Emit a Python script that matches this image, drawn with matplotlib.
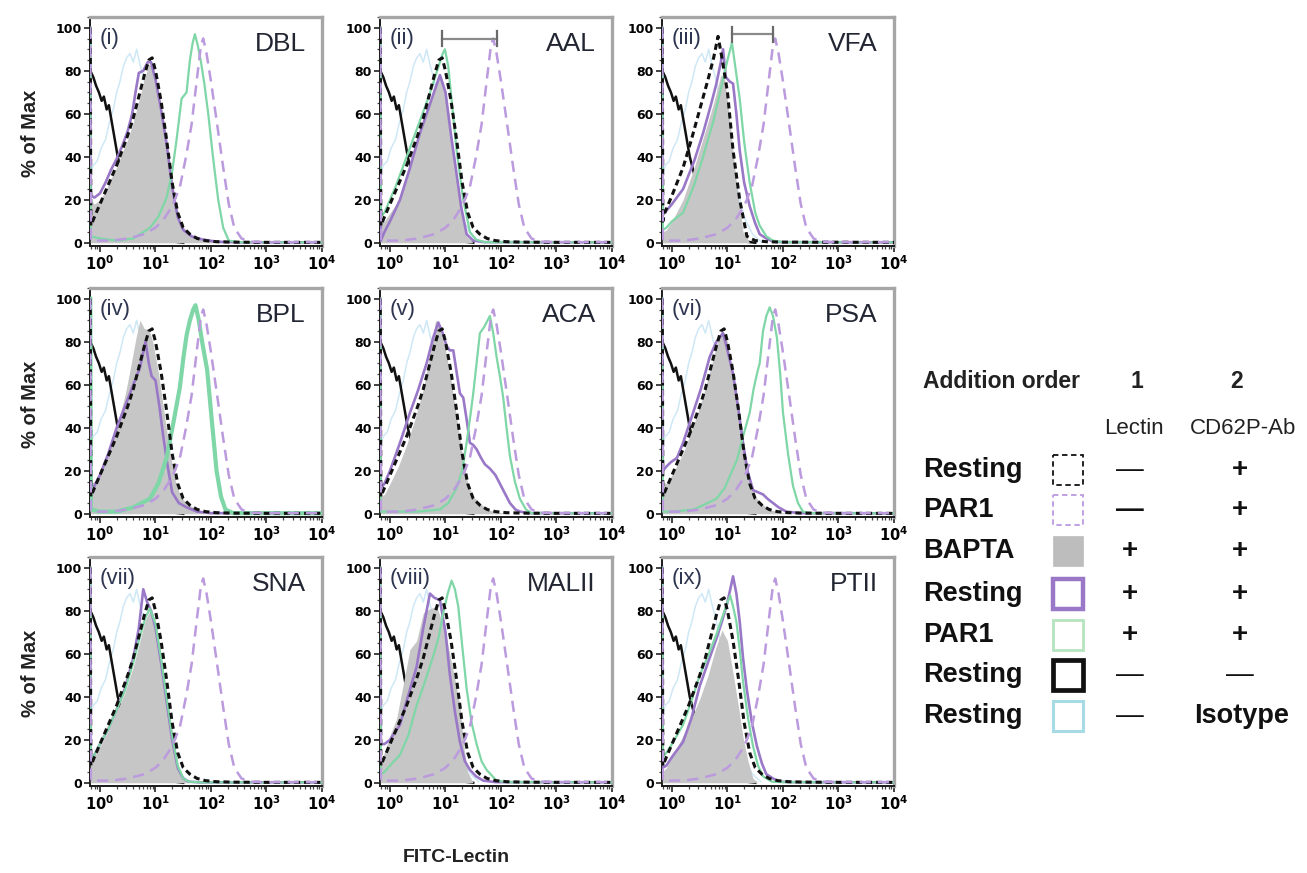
import numpy as np
import matplotlib
matplotlib.use("Agg")
import matplotlib.pyplot as plt
from matplotlib.patches import Rectangle
from matplotlib.ticker import LogLocator, MultipleLocator, NullFormatter, FixedLocator

plt.rcParams["font.family"] = ["Liberation Sans", "DejaVu Sans"]
plt.rcParams["mathtext.fontset"] = "dejavusans"

# ---------------------------------------------------------------- data
# x values are log10(FITC intensity); y values are % of max.
LECTINS = ["DBL", "AAL", "VFA", "BPL", "ACA", "PSA", "SNA", "MALII", "PTII"]
TAGS = ["(i)", "(ii)", "(iii)", "(iv)", "(v)", "(vi)", "(vii)", "(viii)", "(ix)"]

# controls shared by every panel
ISO_X = [-0.175, -0.12, -0.05, 0.02, 0.1, 0.17, 0.24, 0.3, 0.36, 0.42, 0.48, 0.54, 0.6,
         0.66, 0.72, 0.8, 0.9, 1.0, 1.15, 1.3, 1.45, 1.6]
ISO_Y = [32, 36, 38, 44, 48, 56, 62, 70, 75, 82, 86, 88, 84, 90, 83, 75, 62, 48, 28, 12, 4, 0.5]

NOAB_X = [-0.175, -0.12, -0.07, -0.02, 0.03, 0.07, 0.12, 0.16, 0.2, 0.24, 0.28, 0.32, 0.4,
          0.5, 0.65, 0.8, 1.0, 1.2, 1.5]
NOAB_Y = [80, 77, 73, 70, 66, 68, 62, 64, 58, 52, 46, 40, 32, 24, 15, 9, 4, 1, 0]

REST_AB_X = [-0.175, -0.165, -0.1, 0.0, 0.1, 0.2, 0.3, 0.4, 0.5, 0.6, 0.7, 0.8, 0.88, 0.94,
             1.0, 1.1, 1.2, 1.3, 1.4, 1.5, 1.62, 1.75, 1.9, 2.1, 2.4, 3.0, 4.0]
REST_AB_Y = [100, 8, 12, 18, 24, 30, 36, 43, 50, 58, 68, 78, 85, 86, 80, 66, 48, 28, 14, 7,
             4, 2, 1, 0.5, 0.3, 0.2, 0.2]

REST_AB_VFA_X = [-0.175, -0.165, -0.13, 0.0, 0.2, 0.35, 0.5, 0.65, 0.75, 0.83, 0.9, 1.0,
                 1.1, 1.22, 1.35, 1.5, 1.7, 2.0, 4.0]
REST_AB_VFA_Y = [100, 10, 14, 22, 35, 48, 62, 76, 86, 96, 86, 70, 43, 20, 3, 1, 0.5, 0.3, 0.2]

PAR1_AB_X = [-0.175, -0.165, 0.2, 0.5, 0.8, 1.0, 1.15, 1.3, 1.44, 1.55, 1.65, 1.75, 1.82,
             1.86, 1.92, 2.0, 2.1, 2.22, 2.32, 2.42, 2.55, 2.7, 3.0, 4.0]
PAR1_AB_Y = [100, 1, 1, 2, 4, 7, 11, 17, 26, 40, 55, 77, 92, 95, 88, 75, 57, 35, 18, 7, 2,
             0.5, 0.3, 0.3]

# BAPTA (filled grey)
BAPTA_X = {
    "DBL": [-0.175, -0.1, 0.0, 0.1, 0.2, 0.3, 0.4, 0.5, 0.6, 0.7, 0.8, 0.88, 0.95, 1.05, 1.15,
            1.25, 1.35, 1.45, 1.6, 1.8, 2.0, 2.3],
    "AAL": [-0.175, -0.1, 0.0, 0.18, 0.35, 0.54, 0.7, 0.9, 1.05, 1.2, 1.3, 1.38, 1.5],
    "VFA": [-0.175, -0.1, 0.0, 0.2, 0.4, 0.6, 0.75, 0.88, 0.95, 1.05, 1.15, 1.28, 1.4],
    "BPL": [-0.175, -0.1, 0.0, 0.15, 0.3, 0.45, 0.55, 0.65, 0.72, 0.8, 0.88, 0.95, 1.05, 1.15,
            1.25, 1.35, 1.45, 1.6, 1.8, 2.1],
    "ACA": [-0.175, -0.1, 0.0, 0.15, 0.3, 0.45, 0.6, 0.72, 0.82, 0.9, 1.0, 1.1, 1.2, 1.3, 1.4,
            1.5, 1.62, 1.75, 1.9, 2.1],
    "PSA": [-0.175, -0.1, 0.0, 0.2, 0.4, 0.55, 0.7, 0.82, 0.9, 1.0, 1.1, 1.2, 1.3, 1.4, 1.5,
            1.6, 1.75, 1.9, 2.1],
    "SNA": [-0.175, -0.1, 0.0, 0.15, 0.3, 0.45, 0.6, 0.72, 0.82, 0.9, 1.0, 1.1, 1.2, 1.3, 1.4,
            1.5, 1.6],
    "MALII": [-0.175, -0.1, 0.0, 0.12, 0.24, 0.36, 0.48, 0.6, 0.72, 0.84, 0.95, 1.02, 1.14,
              1.26, 1.34, 1.4, 1.5],
    "PTII": [-0.175, -0.1, 0.0, 0.2, 0.35, 0.5, 0.65, 0.78, 0.9, 1.0, 1.1, 1.2, 1.28, 1.37,
             1.46, 1.55],
}
BAPTA_Y = {
    "DBL": [20, 18, 20, 24, 30, 35, 42, 48, 56, 66, 76, 83, 82, 70, 55, 38, 20, 9, 4, 2, 1, 0],
    "AAL": [12, 10, 14, 20, 34, 51, 63, 78, 62, 30, 12, 3, 0],
    "VFA": [5, 6, 10, 20, 35, 52, 65, 78, 76, 55, 30, 5, 0],
    "BPL": [14, 15, 20, 28, 40, 55, 68, 82, 90, 86, 86, 80, 66, 48, 30, 16, 8, 4, 1.5, 0],
    "ACA": [8, 9, 14, 22, 32, 44, 58, 74, 90, 86, 76, 62, 45, 28, 14, 8, 5, 2, 1, 0],
    "PSA": [15, 14, 18, 28, 42, 54, 68, 80, 86, 80, 62, 44, 26, 14, 8, 5, 2, 1, 0],
    "SNA": [10, 12, 17, 24, 33, 42, 54, 66, 76, 80, 72, 56, 38, 20, 7, 2, 0],
    "MALII": [10, 14, 22, 30, 46, 62, 66, 79, 81, 82, 74, 67, 52, 36, 15, 5, 0],
    "PTII": [5, 7, 12, 22, 30, 39, 50, 62, 71, 66, 51, 35, 21, 10, 2, 0],
}

# resting platelets + lectin (purple solid)
REST_LEC_X = {
    "DBL": [-0.175, -0.165, -0.1, 0.0, 0.1, 0.2, 0.3, 0.4, 0.5, 0.58, 0.64, 0.7, 0.78, 0.86,
            0.92, 1.0, 1.1, 1.2, 1.3, 1.4, 1.5, 1.65, 1.85, 2.1, 2.5, 4.0],
    "AAL": [-0.175, -0.165, -0.1, 0.0, 0.18, 0.35, 0.54, 0.7, 0.82, 0.9, 1.0, 1.1, 1.2, 1.28,
            1.38, 1.5, 1.7, 4.0],
    "VFA": [-0.175, -0.165, -0.13, 0.0, 0.2, 0.4, 0.56, 0.7, 0.8, 0.88, 0.92, 0.97, 1.04, 1.1,
            1.16, 1.22, 1.3, 1.4, 1.5, 1.58, 1.7, 1.82, 2.0, 4.0],
    "BPL": [-0.175, -0.165, -0.1, 0.0, 0.15, 0.3, 0.45, 0.6, 0.72, 0.82, 0.88, 0.93, 1.0, 1.07,
            1.14, 1.22, 1.3, 1.42, 1.56, 1.75, 2.0, 4.0],
    "ACA": [-0.175, -0.165, -0.1, 0.0, 0.18, 0.36, 0.5, 0.66, 0.78, 0.87, 0.95, 1.02, 1.08,
            1.14, 1.2, 1.26, 1.32, 1.38, 1.44, 1.5, 1.56, 1.64, 1.71, 1.8, 1.9, 1.98, 2.08,
            2.16, 2.26, 2.34, 2.5, 4.0],
    "PSA": [-0.175, -0.165, -0.1, -0.02, 0.09, 0.2, 0.38, 0.52, 0.68, 0.8, 0.92, 1.0, 1.1, 1.2,
            1.28, 1.36, 1.46, 1.55, 1.64, 1.72, 1.82, 1.92, 2.06, 2.3, 4.0],
    "SNA": [-0.175, -0.165, -0.1, 0.0, 0.15, 0.3, 0.45, 0.6, 0.7, 0.78, 0.85, 0.92, 1.0, 1.1,
            1.2, 1.3, 1.4, 1.5, 1.6, 1.8, 4.0],
    "MALII": [-0.175, -0.165, -0.1, 0.0, 0.18, 0.3, 0.48, 0.6, 0.72, 0.8, 0.9, 1.0, 1.08, 1.17,
              1.26, 1.35, 1.44, 1.55, 1.68, 1.9, 4.0],
    "PTII": [-0.175, -0.165, -0.1, 0.0, 0.2, 0.35, 0.5, 0.65, 0.8, 0.9, 0.99, 1.05, 1.1, 1.16,
             1.22, 1.28, 1.35, 1.44, 1.53, 1.62, 1.7, 1.82, 1.94, 2.2, 4.0],
}
REST_LEC_Y = {
    "DBL": [100, 22, 21, 23, 28, 34, 39, 45, 52, 60, 70, 79, 80, 84, 84, 76, 62, 46, 26, 12, 6,
            3, 1.5, 0.5, 0.2, 0.2],
    "AAL": [100, 1, 5, 10, 20, 34, 51, 63, 72, 78, 70, 50, 32, 17, 4, 1, 0.3, 0.2],
    "VFA": [100, 14, 14, 18, 25, 38, 51, 64, 74, 84, 90, 77, 75, 74, 60, 43, 28, 17, 9, 4, 2,
            0.5, 0.3, 0.2],
    "BPL": [100, 12, 13, 18, 28, 40, 50, 60, 68, 80, 70, 64, 62, 50, 36, 22, 10, 5, 3, 1, 0.3,
            0.2],
    "ACA": [100, 12, 14, 20, 33, 47, 57, 70, 82, 89, 84, 78, 76, 76, 66, 56, 54, 44, 33, 32, 30,
            26, 23, 21, 18, 14, 9, 5, 2, 1, 0.3, 0.2],
    "PSA": [100, 20, 22, 24, 26, 33, 47, 58, 73, 80, 84, 76, 65, 48, 33, 20, 11, 10, 9, 7, 5, 3,
            1, 0.3, 0.2],
    "SNA": [100, 10, 13, 18, 25, 34, 44, 58, 72, 90, 84, 80, 72, 56, 38, 20, 7, 2, 0.5, 0.2,
            0.2],
    "MALII": [100, 18, 18, 20, 27, 38, 54, 72, 88, 86, 85, 70, 50, 33, 19, 10, 6, 3, 1, 0.3,
              0.2],
    "PTII": [100, 7, 8, 12, 19, 30, 45, 56, 67, 75, 83, 90, 96, 88, 75, 58, 43, 28, 17, 9, 4, 2,
             0.5, 0.3, 0.2],
}

# PAR1-activated platelets + lectin (green)
PAR1_LEC_X = {
    "DBL": [-0.175, -0.165, 0.0, 0.3, 0.6, 0.9, 1.05, 1.2, 1.3, 1.38, 1.47, 1.56, 1.62, 1.67,
            1.71, 1.76, 1.82, 1.88, 1.95, 2.04, 2.13, 2.22, 2.32, 2.5, 4.0],
    "AAL": [-0.175, -0.165, -0.1, 0.1, 0.3, 0.5, 0.7, 0.85, 0.95, 0.99, 1.05, 1.2, 1.32, 1.44,
            1.55, 1.7, 4.0],
    "VFA": [-0.175, -0.165, -0.1, 0.0, 0.2, 0.4, 0.56, 0.75, 0.92, 1.0, 1.05, 1.08, 1.14, 1.22,
            1.3, 1.4, 1.5, 1.58, 1.7, 1.82, 2.0, 4.0],
    "BPL": [-0.175, -0.165, 0.0, 0.3, 0.6, 0.9, 1.05, 1.2, 1.32, 1.44, 1.5, 1.56, 1.62, 1.68,
            1.72, 1.78, 1.84, 1.93, 2.02, 2.1, 2.18, 2.26, 2.4, 4.0],
    "ACA": [-0.175, -0.165, 0.0, 0.5, 0.9, 1.05, 1.2, 1.3, 1.38, 1.45, 1.5, 1.56, 1.62, 1.7,
            1.76, 1.8, 1.86, 1.92, 1.98, 2.04, 2.1, 2.16, 2.25, 2.34, 2.45, 2.55, 4.0],
    "PSA": [-0.175, -0.165, 0.0, 0.4, 0.8, 0.95, 1.05, 1.17, 1.28, 1.4, 1.47, 1.53, 1.58, 1.64,
            1.7, 1.76, 1.82, 1.89, 1.95, 2.0, 2.09, 2.18, 2.27, 2.36, 2.5, 4.0],
    "SNA": [-0.175, -0.165, -0.1, 0.0, 0.15, 0.3, 0.45, 0.6, 0.72, 0.82, 0.9, 1.0, 1.1, 1.2,
            1.3, 1.4, 1.5, 1.6, 1.8, 4.0],
    "MALII": [-0.175, -0.165, -0.1, 0.0, 0.18, 0.33, 0.48, 0.63, 0.78, 0.88, 0.96, 1.04, 1.11,
              1.17, 1.23, 1.3, 1.38, 1.47, 1.56, 1.65, 1.74, 1.92, 2.1, 4.0],
    "PTII": [-0.175, -0.165, -0.1, 0.0, 0.2, 0.35, 0.5, 0.65, 0.8, 0.92, 1.0, 1.05, 1.1, 1.16,
             1.22, 1.28, 1.37, 1.46, 1.55, 1.64, 1.8, 2.0, 4.0],
}
PAR1_LEC_Y = {
    "DBL": [100, 3, 2, 1, 2, 7, 12, 21, 33, 48, 67, 70, 85, 93, 97, 92, 84, 74, 60, 39, 20, 7,
            1, 0.3, 0.2],
    "AAL": [100, 12, 14, 26, 40, 54, 68, 80, 88, 90, 82, 43, 20, 5, 1.5, 0.3, 0.2],
    "VFA": [100, 6, 7, 10, 14, 27, 40, 57, 76, 85, 90, 93, 82, 67, 47, 28, 14, 8, 3, 1, 0.3,
            0.2],
    "BPL": [100, 2, 1, 1, 3, 7, 14, 26, 42, 59, 72, 83, 90, 95, 97, 90, 80, 67, 42, 20, 8, 2,
            0.3, 0.2],
    "ACA": [100, 1, 1, 1, 2, 5, 12, 20, 33, 46, 56, 70, 84, 87, 90, 92, 84, 73, 64, 54, 40, 27,
            15, 7, 2, 0.3, 0.2],
    "PSA": [100, 1, 1, 2, 7, 12, 18, 25, 36, 47, 58, 65, 70, 85, 92, 96, 92, 82, 65, 47, 28, 13,
            5, 1, 0.3, 0.2],
    "SNA": [100, 10, 13, 18, 25, 34, 43, 56, 68, 77, 81, 74, 58, 40, 22, 8, 2, 0.5, 0.2, 0.2],
    "MALII": [100, 4, 5, 8, 13, 22, 36, 47, 59, 68, 79, 88, 94, 90, 82, 64, 44, 28, 18, 10, 6,
              1, 0.3, 0.2],
    "PTII": [100, 12, 14, 18, 27, 38, 50, 59, 69, 78, 84, 87, 82, 75, 62, 47, 30, 17, 8, 3, 0.5,
             0.3, 0.2],
}

# bars marking the shift between resting and PAR1 CD62P staining (start, end, height)
SHIFT_BARS = {"AAL": (0.94, 1.93, 95), "VFA": (1.08, 1.82, 97)}

# legend table
LEGEND_ROWS = ["Resting", "PAR1", "BAPTA", "Resting", "PAR1", "Resting", "Resting"]
LEGEND_LECTIN = ["—", "—", "+", "+", "+", "—", "—"]
LEGEND_AB = ["+", "+", "+", "+", "+", "—", "Isotype"]

# ---------------------------------------------------------------- styles
C_BLACK = "#111111"
C_PURPLE = "#9a78c8"
C_PURPLE_D = "#bb9ade"
C_GREEN = "#7fd6a6"
C_GRAY = "#c6c6c6"
C_CYAN = "#cfe8f6"
C_TAG = "#2e3550"

W, H = 1307, 873
COL_LEFT = [90, 380, 662]
ROW_TOP = [17, 288, 557]
AX_W, AX_H = 232, 229
XMIN_LOG = -0.18


def lx(v):
    return 10.0 ** np.asarray(v, dtype=float)


fig = plt.figure(figsize=(W / 100, H / 100), dpi=100)

# overlay in pixel coordinates for shared labels and the legend table
ov = fig.add_axes([0, 0, 1, 1], zorder=-1)
ov.set_xlim(0, W)
ov.set_ylim(H, 0)
ov.axis("off")

for i, lec in enumerate(LECTINS):
    r, c = divmod(i, 3)
    left = COL_LEFT[c] / W
    bottom = 1 - (ROW_TOP[r] + AX_H) / H
    ax = fig.add_axes([left, bottom, AX_W / W, AX_H / H])
    ax.set_xscale("log")
    ax.set_xlim(10 ** XMIN_LOG, 1e4)
    ax.set_ylim(-1.5, 105)

    ax.plot(lx(ISO_X), ISO_Y, color=C_CYAN, lw=1.1, zorder=1)
    ax.plot(lx(NOAB_X), NOAB_Y, color=C_BLACK, lw=1.8, zorder=2)
    ax.fill_between(lx(BAPTA_X[lec]), BAPTA_Y[lec], 0, color=C_GRAY, lw=0, zorder=3)
    ax.plot(lx(REST_LEC_X[lec]), REST_LEC_Y[lec], color=C_PURPLE, lw=1.9, zorder=4)
    ax.plot(lx(PAR1_LEC_X[lec]), PAR1_LEC_Y[lec], color=C_GREEN,
            lw=3.0 if lec == "BPL" else 1.6, zorder=5)
    if lec == "VFA":
        bx, by = REST_AB_VFA_X, REST_AB_VFA_Y
    else:
        bx, by = REST_AB_X, REST_AB_Y
    ax.plot(lx(bx), by, color=C_BLACK, lw=2.2, ls=(0, (2.0, 1.3)), zorder=6)
    ax.plot(lx(PAR1_AB_X), PAR1_AB_Y, color=C_PURPLE_D, lw=1.8, ls=(0, (4.5, 2.8)), zorder=7)

    if lec in SHIFT_BARS:
        x0, x1, yb = SHIFT_BARS[lec]
        ax.plot([10 ** x0, 10 ** x1], [yb, yb], color="#8a8a8a", lw=1.6, zorder=8)
        for xe in (x0, x1):
            ax.plot([10 ** xe, 10 ** xe], [yb - 3.5, yb + 3.5], color="#6a6a6a", lw=1.6,
                    zorder=8)

    ax.text(0.04, 0.905, TAGS[i], transform=ax.transAxes, fontsize=16, color=C_TAG,
            ha="left", va="center", zorder=9)
    ax.text(0.93, 0.88, lec, transform=ax.transAxes, fontsize=19, color="#222633",
            ha="right", va="center", zorder=9)

    # axes frame
    for s in ("top", "right"):
        ax.spines[s].set_color("#a6a6a6")
        ax.spines[s].set_linewidth(2.4)
    for s in ("left", "bottom"):
        ax.spines[s].set_color("#1a1a1a")
        ax.spines[s].set_linewidth(1.4)

    ax.xaxis.set_major_locator(FixedLocator([1, 10, 100, 1000, 10000]))
    ax.set_xticklabels([r"$\mathbf{10^{%d}}$" % k for k in range(5)], fontsize=10.5)
    ax.xaxis.set_minor_locator(LogLocator(base=10, subs=np.arange(2, 10)))
    ax.xaxis.set_minor_formatter(NullFormatter())
    ax.set_yticks([0, 20, 40, 60, 80, 100])
    ax.set_yticklabels(["0", "20", "40", "60", "80", "100"], fontfamily="DejaVu Sans",
                       fontweight="bold", fontsize=9)
    ax.yaxis.set_minor_locator(MultipleLocator(5))
    ax.tick_params(axis="both", which="major", direction="out", length=4, width=1.2,
                   color="#222222", pad=2)
    ax.tick_params(axis="both", which="minor", direction="out", length=2, width=0.9,
                   color="#444444")

    if c == 0:
        ov.text(31, ROW_TOP[r] + 116, "% of Max", rotation=90, fontsize=14.5,
                fontweight="bold", ha="center", va="center", color="#222222")

ov.text(456, 858, "FITC-Lectin", fontsize=14, fontweight="bold", ha="center", va="center",
        color="#222222")

# ---------------------------------------------------------------- legend table
TEXT_X = 923
BOX_X = 1053
COL1_X = 1130
COL2_X = 1240
ROW_Y = [470, 510, 551, 594, 635, 675, 716]

ov.text(TEXT_X, 382, "Addition order", fontsize=16.5, fontweight="bold", ha="left",
        va="center", color="#222222")
ov.text(1137, 382, "1", fontsize=16.5, fontweight="bold", ha="center", va="center",
        color="#222222")
ov.text(1237, 382, "2", fontsize=16.5, fontweight="bold", ha="center", va="center",
        color="#222222")
ov.text(1134, 428, "Lectin", fontsize=16, ha="center", va="center", color="#222222")
ov.text(1243, 428, "CD62P-Ab", fontsize=16, ha="center", va="center", color="#222222")

box_styles = [
    dict(fill=False, edgecolor=C_BLACK, lw=1.3, ls=(0, (3, 2))),
    dict(fill=False, edgecolor=C_PURPLE_D, lw=1.3, ls=(0, (3, 2))),
    dict(fill=True, facecolor="#bdbdbd", edgecolor="#bdbdbd", lw=0.5),
    dict(fill=False, edgecolor=C_PURPLE, lw=3.2),
    dict(fill=False, edgecolor="#b6e4bf", lw=2.0),
    dict(fill=False, edgecolor=C_BLACK, lw=3.4),
    dict(fill=False, edgecolor="#a6dbe6", lw=2.2),
]

for k, y in enumerate(ROW_Y):
    ov.text(TEXT_X, y, LEGEND_ROWS[k], fontsize=19.5, fontweight="bold", ha="left",
            va="center", color="#111111")
    ov.add_patch(Rectangle((BOX_X, y - 15), 30, 30, **box_styles[k]))
    lec_sym = LEGEND_LECTIN[k]
    lec_bold = "bold" if (lec_sym == "+" or k == 1) else "normal"
    ov.text(COL1_X, y, lec_sym, fontsize=20, fontweight=lec_bold, ha="center",
            va="center", color="#111111")
    ab = LEGEND_AB[k]
    ov.text(COL2_X + (2 if ab == "Isotype" else 0), y, ab,
            fontsize=19.5 if ab == "Isotype" else 20,
            fontweight="bold" if ab != "—" else "normal", ha="center", va="center",
            color="#111111")

fig.savefig("out.png", dpi=100)
